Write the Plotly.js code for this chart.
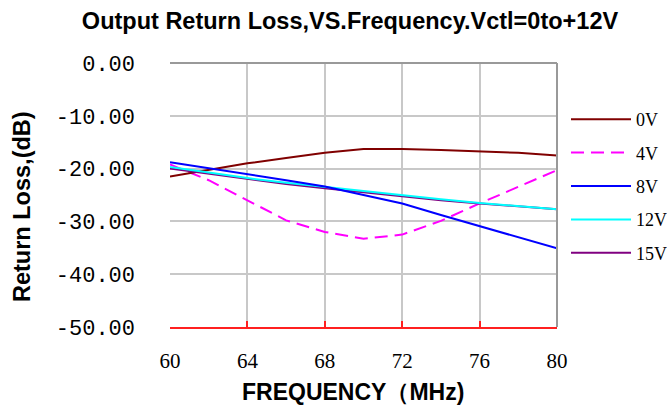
<!DOCTYPE html>
<html><head><meta charset="utf-8">
<script src="https://cdn.plot.ly/plotly-3.0.1.min.js"></script>
<style>html,body{margin:0;padding:0;background:#fff}#chart{width:667px;height:408px}</style>
</head><body><div id="chart"></div>
<script>
var freq = [60, 62, 64, 66, 68, 70, 72, 74, 76, 78, 80];
var v0  = [-21.5, -20.3, -19.0, -18.0, -17.0, -16.3, -16.3, -16.5, -16.7, -17.0, -17.5];
var v4  = [-19.2, -22.2, -26.0, -29.8, -32.0, -33.3, -32.5, -29.9, -26.6, -23.4, -20.3];
var v8  = [-18.8, -19.9, -21.0, -22.2, -23.4, -25.0, -26.6, -28.8, -30.9, -33.0, -35.1];
var v12 = [-19.7, -20.8, -21.8, -22.7, -23.5, -24.3, -25.1, -25.8, -26.5, -27.1, -27.7];
var v15 = [-20.0, -21.0, -22.0, -22.9, -23.7, -24.5, -25.3, -26.0, -26.6, -27.2, -27.7];
var seriesNames = ['0V', '4V', '8V', '12V', '15V'];
var xTicks = [60, 64, 68, 72, 76, 80];
var yTickVals = [0, -10, -20, -30, -40, -50];
var yTickText = ['0.00', '-10.00', '-20.00', '-30.00', '-40.00', '-50.00'];

var colors = ['#800000', '#ff00ff', '#0000ff', '#00ffff', '#800080'];
var dashes = ['solid', '13px,7px', 'solid', 'solid', 'solid'];
var ys = [v0, v4, v8, v12, v15];
var traces = ys.map(function (y, i) {
  return {x: freq, y: y, name: seriesNames[i], type: 'scatter', mode: 'lines',
    legendgroup: 'g' + i, legendrank: i + 1,
    line: {color: colors[i], width: 2, dash: dashes[i]}};
});
// draw order: magenta, dark red, purple, cyan, blue on top
var order = [1, 0, 4, 3, 2];
var data = order.map(function (i) { return traces[i]; });

var sansBold = {family: 'Liberation Sans, Arial, sans-serif', color: '#000', weight: 'bold'};
function f(size) { return Object.assign({size: size}, sansBold); }

var layout = {
  width: 667, height: 408,
  margin: {l: 170, r: 110, t: 63, b: 81, autoexpand: false},
  paper_bgcolor: '#fff', plot_bgcolor: '#fff',
  title: {text: 'Output Return Loss,VS.Frequency.Vctl=0to+12V', font: f(23.5),
    x: 350 / 667, xref: 'container', xanchor: 'center',
    y: 1 - 21 / 408, yref: 'container', yanchor: 'middle'},
  xaxis: {range: [60, 80], tickvals: xTicks, ticktext: xTicks.map(String),
    showgrid: true, gridcolor: '#c8c8c8', gridwidth: 2, zeroline: false,
    showline: true, linecolor: '#ff2020', linewidth: 2,
    ticks: 'inside', ticklen: 6, tickwidth: 2, tickcolor: '#ff2020',
    ticklabelstandoff: 14,
    tickfont: {family: 'Liberation Serif, serif', size: 21, color: '#000'}},
  yaxis: {range: [-50, 0], tickvals: yTickVals, ticktext: yTickText,
    showgrid: true, gridcolor: '#c8c8c8', gridwidth: 2, zeroline: false,
    showline: false, ticks: '', ticklabelstandoff: 34,
    tickfont: {family: 'Liberation Mono, monospace', size: 22, color: '#000'}},
  annotations: [
    {text: 'FREQUENCY（MHz)', xref: 'paper', yref: 'paper', x: (352.5 - 170) / 387, y: (327 - 392) / 264,
      xanchor: 'center', yanchor: 'middle', showarrow: false, font: f(23)},
    {text: 'Return Loss,(dB)', xref: 'paper', yref: 'paper', x: (22 - 170) / 387, y: (327 - 207) / 264,
      xanchor: 'center', yanchor: 'middle', showarrow: false, textangle: -90, font: f(23.5)}
  ],
  legend: {x: (566 - 170) / 387, xanchor: 'left', y: (327 - 101) / 264, yanchor: 'top', traceorder: 'grouped',
    tracegroupgap: 7, itemwidth: 60, bgcolor: 'rgba(0,0,0,0)',
    font: {family: 'Liberation Serif, serif', size: 18, color: '#000'}},
  shapes: [
    {type: 'line', xref: 'paper', yref: 'paper', x0: 0, x1: 1, y0: 1, y1: 1, line: {color: '#999', width: 2}},
    {type: 'line', xref: 'paper', yref: 'paper', x0: 1, x1: 1, y0: 0, y1: 1, line: {color: '#999', width: 2}}
  ]
};
Plotly.newPlot('chart', data, layout, {displayModeBar: false, staticPlot: true});
</script></body></html>
